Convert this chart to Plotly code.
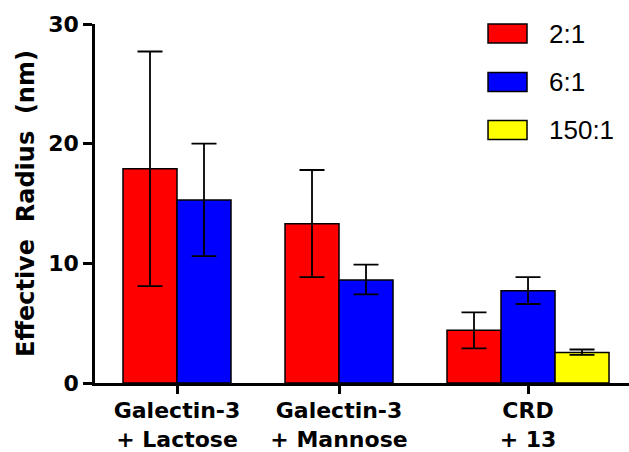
import plotly.graph_objects as go

# ---- data ----
groups = ["Galectin-3<br>+ Lactose", "Galectin-3<br>+ Mannose", "CRD<br>+ 13"]
series_names = ["2:1", "6:1", "150:1"]
series_colors = ["#FF0000", "#0000FF", "#FFFF00"]
mean_2_1 = [17.9, 13.3, 4.4]
mean_6_1 = [15.3, 8.6, 7.7]
mean_150_1 = [None, None, 2.55]
err_up_2_1 = [9.8, 4.5, 1.5]
err_dn_2_1 = [9.8, 4.45, 1.5]
err_up_6_1 = [4.7, 1.3, 1.15]
err_dn_6_1 = [4.7, 1.2, 1.1]
err_up_150_1 = [None, None, 0.25]
err_dn_150_1 = [None, None, 0.2]
y_ticks = [0, 10, 20, 30]

means = [mean_2_1, mean_6_1, mean_150_1]
errs_up = [err_up_2_1, err_up_6_1, err_up_150_1]
errs_dn = [err_dn_2_1, err_dn_6_1, err_dn_150_1]

# ---- positions: bars adjacent within group, one bar-width gap between groups ----
positions = [[None] * len(groups) for _ in series_names]
group_centers = []
slot = 0
for g in range(len(groups)):
    start = slot
    for s in range(len(series_names)):
        if means[s][g] is not None:
            positions[s][g] = slot + 0.5
            slot += 1
    group_centers.append((start + slot) / 2)
    slot += 1

fig = go.Figure()
for s, name in enumerate(series_names):
    xs, ys, eu, ed = [], [], [], []
    for g in range(len(groups)):
        if means[s][g] is not None:
            xs.append(positions[s][g])
            ys.append(means[s][g])
            eu.append(errs_up[s][g])
            ed.append(errs_dn[s][g])
    fig.add_trace(go.Bar(
        x=xs, y=ys, name=name, width=1.0,
        marker=dict(color=series_colors[s], line=dict(color="black", width=1.5)),
        error_y=dict(type="data", array=eu, arrayminus=ed, symmetric=False,
                     color="black", thickness=1.8, width=12.5),
        showlegend=False,
    ))

bold = dict(family="DejaVu Sans", size=22, color="black", weight="bold")

fig.update_layout(
    width=629, height=452,
    margin=dict(l=95, r=0, t=24, b=69),
    paper_bgcolor="white", plot_bgcolor="white",
    barmode="overlay",
    xaxis=dict(
        range=[-0.5185, 9.37], automargin=False,
        tickvals=group_centers, ticktext=groups,
        showline=True, linecolor="black", linewidth=2.5,
        ticks="outside", ticklen=8, tickwidth=2.5, tickcolor="black",
        ticklabelstandoff=-2,
        tickfont=bold, showgrid=False, zeroline=False,
    ),
    yaxis=dict(
        range=[0, 30], tickvals=y_ticks, automargin=False,
        showline=True, linecolor="black", linewidth=2.5,
        ticks="outside", ticklen=9, tickwidth=2.5, tickcolor="black",
        tickfont=bold, showgrid=False, zeroline=False,
        title=dict(text="Effective\u00a0\u00a0Radius\u00a0\u00a0(nm)",
                   font=dict(family="DejaVu Sans", size=24, color="black", weight="bold"),
                   standoff=7),
    ),
)

# ---- manual legend (large swatches) ----
row_y = [0.9735, 0.8384, 0.7047]
half_h = 0.0265
for s, name in enumerate(series_names):
    fig.add_shape(type="rect", xref="paper", yref="paper",
                  x0=0.736, x1=0.809, y0=row_y[s] - half_h, y1=row_y[s] + half_h,
                  fillcolor=series_colors[s], line=dict(color="black", width=1.5))
    fig.add_annotation(xref="paper", yref="paper", x=0.8464, y=row_y[s],
                       xanchor="left", yanchor="middle", text=name, showarrow=False,
                       font=dict(family="Liberation Sans", size=26, color="black"))

fig.write_html("out.html", config={"displayModeBar": False},
               post_script="document.body.style.margin='0';")
